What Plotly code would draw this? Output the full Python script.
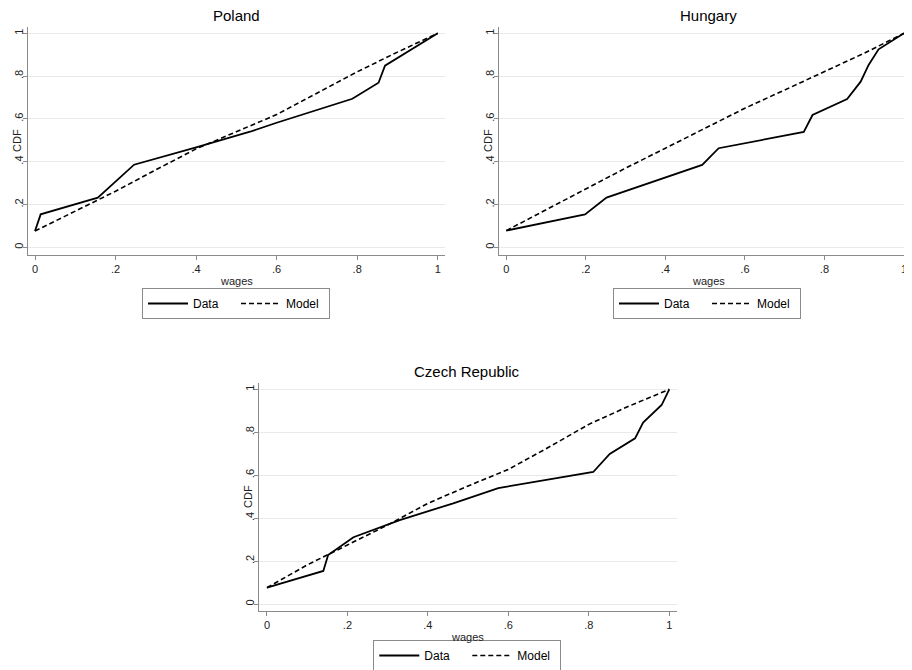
import plotly.graph_objects as go

# ---------------- data ----------------
tick_vals = [0, 0.2, 0.4, 0.6, 0.8, 1]
tick_text = ["0", ".2", ".4", ".6", ".8", "1"]

model_x = [0, 0.1, 0.2, 0.3, 0.4, 0.5, 0.6, 0.7, 0.8, 0.9, 1.0]

poland_data_x = [0, 0.014, 0.156, 0.2, 0.246, 0.4, 0.534, 0.6, 0.7, 0.788, 0.853, 0.869, 1.0]
poland_data_y = [0.076, 0.154, 0.232, 0.307, 0.386, 0.467, 0.54, 0.582, 0.64, 0.694, 0.769, 0.849, 1.0]
poland_model_y = [0.076, 0.168, 0.262, 0.362, 0.46, 0.54, 0.62, 0.72, 0.82, 0.912, 1.0]

hungary_data_x = [0, 0.198, 0.252, 0.4925, 0.534, 0.748, 0.770, 0.857, 0.891, 0.911, 0.936, 1.0]
hungary_data_y = [0.078, 0.154, 0.232, 0.385, 0.463, 0.539, 0.618, 0.693, 0.774, 0.852, 0.925, 1.0]
hungary_model_y = [0.078, 0.175, 0.271, 0.37, 0.463, 0.555, 0.65, 0.735, 0.821, 0.907, 1.0]

czech_data_x = [0, 0.14, 0.152, 0.215, 0.33, 0.463, 0.575, 0.67, 0.811, 0.852, 0.915, 0.935, 0.981, 1.0]
czech_data_y = [0.076, 0.154, 0.228, 0.311, 0.391, 0.469, 0.54, 0.57, 0.615, 0.699, 0.772, 0.845, 0.927, 1.0]
czech_model_y = [0.076, 0.182, 0.275, 0.368, 0.469, 0.55, 0.627, 0.73, 0.837, 0.922, 1.0]

panels = [
    ("Poland", poland_data_x, poland_data_y, poland_model_y),
    ("Hungary", hungary_data_x, hungary_data_y, hungary_model_y),
    ("Czech Republic", czech_data_x, czech_data_y, czech_model_y),
]

# ---------------- styling ----------------
FONT = "Liberation Sans, Arial, sans-serif"
AXC = "#8a8a8a"
GRID = "#e9e9e9"
OFF = 8                      # page body margin in the browser
W, H = 912 - OFF, 670 - OFF  # figure size so that it fills the window


def fx(p):
    return (p - OFF) / W


def fy(p):
    return 1 - (p - OFF) / H


# layout geometry (screen pixels of the reference)
geo = [
    dict(x0=28, x1=445, yt=27, yb=255, xr=[-0.0174, 1.018], yr=[-0.036, 1.0294],
         title=(237, 15.5), ylab=(17, 141), xlab=(237, 281), leg=(236, 288)),
    dict(x0=499.3, x1=912, yt=27, yb=255, xr=[-0.0176, 1.0201], yr=[-0.036, 1.0294],
         title=(708, 15.5), ylab=(488, 141), xlab=(708, 281), leg=(707, 288)),
    dict(x0=259.3, x1=676.5, yt=382.7, yb=611, xr=[-0.0191, 1.018], yr=[-0.0326, 1.031],
         title=(467, 371), ylab=(248, 497), xlab=(467, 637), leg=(467.3, 640)),
]

fig = go.Figure()
annotations = []
layout = {}

for i, ((name, dx, dy, my), g) in enumerate(zip(panels, geo), start=1):
    sfx = "" if i == 1 else str(i)
    leg = "legend" if i == 1 else f"legend{i}"
    fig.add_trace(go.Scatter(
        x=dx, y=dy, mode="lines", name="Data",
        line=dict(color="black", width=1.8),
        xaxis=f"x{sfx}", yaxis=f"y{sfx}", legend=leg))
    fig.add_trace(go.Scatter(
        x=model_x, y=my, mode="lines", name="Model",
        line=dict(color="black", width=1.6, dash="5px,3px"),
        xaxis=f"x{sfx}", yaxis=f"y{sfx}", legend=leg))

    layout[f"xaxis{sfx}"] = dict(
        domain=[fx(g["x0"]), min(1.0, fx(g["x1"]))], anchor=f"y{sfx}",
        range=g["xr"], tickvals=tick_vals, ticktext=tick_text,
        showgrid=False, zeroline=False, showline=True, linecolor=AXC, linewidth=1,
        ticks="outside", ticklen=4, tickcolor=AXC, automargin=False,
        ticklabeloverflow="allow",
        tickfont=dict(family=FONT, size=11, color="#222"), fixedrange=True)
    layout[f"yaxis{sfx}"] = dict(
        domain=[fy(g["yb"]), fy(g["yt"])], anchor=f"x{sfx}",
        range=g["yr"], tickvals=tick_vals, ticktext=tick_text, tickangle=-90,
        showgrid=True, gridcolor=GRID, gridwidth=1, zeroline=False,
        showline=True, linecolor=AXC, linewidth=1,
        ticks="outside", ticklen=4, tickcolor=AXC, automargin=False,
        ticklabelstandoff=-4, ticklabeloverflow="allow",
        tickfont=dict(family=FONT, size=11, color="#222"), fixedrange=True)

    annotations.append(dict(text=name, x=fx(g["title"][0]), y=fy(g["title"][1]),
                            xref="paper", yref="paper", showarrow=False,
                            xanchor="center", yanchor="middle",
                            font=dict(family=FONT, size=15, color="black")))
    annotations.append(dict(text="CDF", x=fx(g["ylab"][0]), y=fy(g["ylab"][1]),
                            xref="paper", yref="paper", showarrow=False, textangle=-90,
                            xanchor="center", yanchor="middle",
                            font=dict(family=FONT, size=11, color="#222")))
    annotations.append(dict(text="wages", x=fx(g["xlab"][0]), y=fy(g["xlab"][1]),
                            xref="paper", yref="paper", showarrow=False,
                            xanchor="center", yanchor="middle",
                            font=dict(family=FONT, size=11, color="#222")))
    layout[leg] = dict(
        x=fx(g["leg"][0]), y=fy(g["leg"][1]), xanchor="center", yanchor="top",
        orientation="h", bordercolor=AXC, borderwidth=1, bgcolor="white",
        font=dict(family=FONT, size=12, color="black"),
        itemwidth=40, entrywidth=38, tracegroupgap=0)

fig.update_layout(
    width=W, height=H, autosize=False,
    margin=dict(l=0, r=0, t=0, b=0, pad=0, autoexpand=False),
    paper_bgcolor="white", plot_bgcolor="white",
    showlegend=True, annotations=annotations, **layout)

fig.write_html("out.html")
